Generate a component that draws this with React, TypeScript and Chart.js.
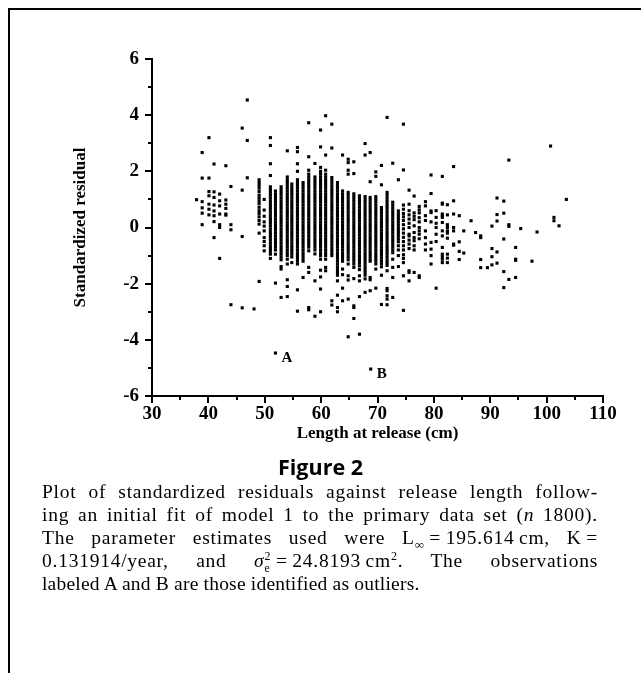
import React, { useEffect, useRef } from "react";
import { Chart, registerables } from "chart.js";

Chart.register(...registerables);

// ---- Data (release length in cm, standardized residual) ----
const leftCluster: [number, number[]][] = [
  [37.9, [0.99]],
  [38.9, [2.67, 1.76, 0.92, 0.7, 0.51, 0.1]],
  [40.1, [3.2, 1.76, 1.28, 1.13, 0.83, 0.65, 0.45]],
  [41.0, [2.26, 1.27, 1.07, 0.8, 0.59, 0.42, 0.21, -0.36]],
  [42.0, [1.19, 0.95, 0.77, 0.48, 0.1, 0, -1.1]],
  [43.1, [2.2, 0.98, 0.83, 0.68, 0.48, 0.44]],
  [44.0, [1.46, 0.1, -0.08, -2.75]],
  [46.0, [3.54, 1.33, -0.32, -2.86]],
  [46.9, [4.54, 3.1, 1.77]],
  [48.1, [-2.9]],
];

const coreColumns: [number, number[]][] = [
  [49.0, [1.7, 1.6, 1.5, 1.4, 1.28, 1.15, 1.05, 0.95, 0.85, 0.72, 0.6, 0.5, 0.38, 0.25, 0.12, -0.2, -1.92]],
  [49.9, [1.0, 0.62, 0.4, 0.2, 0.05, -0.12, -0.36, -0.5, -0.65, -0.83]],
  [51.0, [3.2, 2.92, 2.27, 1.85, 1.45, 1.35, 1.25, 1.15, 1.05, 0.95, 0.85, 0.75, 0.65, 0.55, 0.45, 0.35, 0.25, 0.15, 0.05, -0.05, -0.15, -0.25, -0.35, -0.45, -0.55, -0.65, -0.75, -0.85, -0.95, -1.1]],
  [51.9, [1.3, 1.2, 1.1, 1.0, 0.9, 0.8, 0.7, 0.6, 0.5, 0.4, 0.3, 0.2, 0.1, 0, -0.1, -0.2, -0.3, -0.4, -0.5, -0.6, -0.7, -0.8, -0.95, -1.98]],
  [52.9, [1.45, 1.35, 1.25, 1.15, 1.05, 0.95, 0.85, 0.75, 0.65, 0.55, 0.45, 0.35, 0.25, 0.15, 0.05, -0.05, -0.15, -0.25, -0.35, -0.45, -0.55, -0.65, -0.75, -0.85, -0.95, -1.05, -1.15, -1.39, -1.48, -2.49]],
  [54.0, [2.73, 1.8, 1.7, 1.6, 1.5, 1.4, 1.3, 1.2, 1.1, 1.0, 0.9, 0.8, 0.7, 0.6, 0.5, 0.4, 0.3, 0.2, 0.1, 0, -0.1, -0.2, -0.3, -0.4, -0.5, -0.6, -0.7, -0.8, -0.9, -1.0, -1.13, -1.3, -1.86, -2.1, -2.46]],
  [54.8, [1.55, 1.45, 1.35, 1.25, 1.15, 1.05, 0.95, 0.85, 0.75, 0.65, 0.55, 0.45, 0.35, 0.25, 0.15, 0.05, -0.05, -0.15, -0.25, -0.35, -0.45, -0.55, -0.65, -0.75, -0.85, -0.95, -1.05, -1.25]],
  [55.8, [2.85, 2.7, 2.27, 2.0, 1.7, 1.6, 1.5, 1.4, 1.3, 1.2, 1.1, 1.0, 0.9, 0.8, 0.7, 0.6, 0.5, 0.4, 0.3, 0.2, 0.1, 0, -0.1, -0.2, -0.3, -0.4, -0.5, -0.6, -0.7, -0.8, -0.9, -1.0, -1.1, -1.2, -1.3, -2.22, -2.98]],
  [56.8, [1.6, 1.5, 1.4, 1.3, 1.2, 1.1, 1.0, 0.9, 0.8, 0.7, 0.6, 0.5, 0.4, 0.3, 0.2, 0.1, 0, -0.1, -0.2, -0.3, -0.4, -0.5, -0.6, -0.7, -0.8, -0.9, -1.0, -1.1, -1.2, -1.78]],
  [57.8, [3.73, 2.52, 2.04, 1.9, 1.8, 1.7, 1.6, 1.5, 1.4, 1.3, 1.2, 1.1, 1.0, 0.9, 0.8, 0.7, 0.6, 0.5, 0.4, 0.3, 0.2, 0.1, 0, -0.1, -0.2, -0.3, -0.4, -0.5, -0.6, -0.7, -0.83, -1.42, -1.6, -2.85, -2.93]],
  [58.9, [2.28, 1.8, 1.7, 1.6, 1.5, 1.4, 1.3, 1.2, 1.1, 1.0, 0.9, 0.8, 0.7, 0.6, 0.5, 0.4, 0.3, 0.2, 0.1, 0, -0.1, -0.2, -0.3, -0.4, -0.5, -0.6, -0.7, -0.8, -0.94, -1.9, -3.16]],
  [59.9, [3.47, 2.87, 2.14, 2.0, 1.9, 1.8, 1.7, 1.6, 1.5, 1.4, 1.3, 1.2, 1.1, 1.0, 0.9, 0.8, 0.7, 0.6, 0.5, 0.4, 0.3, 0.2, 0.1, 0, -0.1, -0.2, -0.3, -0.4, -0.5, -0.6, -0.7, -0.8, -0.9, -1.0, -1.13, -1.52, -1.76, -2.19, -3.0]],
  [60.8, [3.98, 2.58, 2.04, 1.9, 1.8, 1.7, 1.6, 1.5, 1.4, 1.3, 1.2, 1.1, 1.0, 0.9, 0.8, 0.7, 0.6, 0.5, 0.4, 0.3, 0.2, 0.1, 0, -0.1, -0.2, -0.3, -0.4, -0.5, -0.6, -0.7, -0.8, -0.9, -1.0, -1.13, -1.42, -1.54]],
  [61.9, [3.68, 2.83, 1.78, 1.68, 1.58, 1.48, 1.38, 1.28, 1.18, 1.08, 0.98, 0.88, 0.78, 0.68, 0.58, 0.48, 0.38, 0.28, 0.18, 0.08, -0.02, -0.12, -0.22, -0.32, -0.42, -0.52, -0.62, -0.72, -0.82, -0.92, -1.0, -2.61, -2.76]],
  [62.9, [1.6, 1.5, 1.4, 1.3, 1.2, 1.1, 1.0, 0.9, 0.8, 0.7, 0.6, 0.5, 0.4, 0.3, 0.2, 0.1, 0, -0.1, -0.2, -0.3, -0.4, -0.5, -0.6, -0.7, -0.8, -0.9, -1.0, -1.1, -1.2, -1.3, -1.4, -1.5, -1.6, -1.7, -1.9, -2.41, -2.85, -3.0]],
  [63.8, [2.58, 1.3, 1.2, 1.1, 1.0, 0.9, 0.8, 0.7, 0.6, 0.5, 0.4, 0.3, 0.2, 0.1, 0, -0.1, -0.2, -0.3, -0.4, -0.5, -0.6, -0.7, -0.8, -0.9, -1.0, -1.1, -1.2, -1.48, -1.68, -2.16, -2.61]],
  [64.8, [2.43, 2.31, 2.04, 1.9, 1.25, 1.15, 1.05, 0.95, 0.85, 0.75, 0.65, 0.55, 0.45, 0.35, 0.25, 0.15, 0.05, -0.05, -0.15, -0.25, -0.35, -0.45, -0.55, -0.65, -0.75, -0.85, -0.95, -1.05, -1.15, -1.3, -1.72, -1.87, -2.55, -3.89]],
  [65.8, [2.34, 1.92, 1.2, 1.1, 1.0, 0.9, 0.8, 0.7, 0.6, 0.5, 0.4, 0.3, 0.2, 0.1, 0, -0.1, -0.2, -0.3, -0.4, -0.5, -0.6, -0.7, -0.8, -0.9, -1.0, -1.1, -1.2, -1.3, -1.42, -1.82, -2.79, -2.85, -3.24]],
  [66.8, [1.13, 1.03, 0.93, 0.83, 0.73, 0.63, 0.53, 0.43, 0.33, 0.23, 0.13, 0.03, -0.07, -0.17, -0.27, -0.37, -0.47, -0.57, -0.67, -0.77, -0.87, -0.97, -1.07, -1.17, -1.27, -1.37, -1.5, -1.72, -1.9, -2.46, -3.8]],
  [67.8, [2.99, 2.58, 1.1, 1.0, 0.9, 0.8, 0.7, 0.6, 0.5, 0.4, 0.3, 0.2, 0.1, 0, -0.1, -0.2, -0.3, -0.4, -0.5, -0.6, -0.7, -0.8, -0.9, -1.0, -1.1, -1.2, -1.3, -1.4, -1.5, -1.6, -1.7, -1.83, -2.31]],
  [68.7, [2.67, 1.63, 1.07, 0.97, 0.87, 0.77, 0.67, 0.57, 0.47, 0.37, 0.27, 0.17, 0.07, -0.03, -0.13, -0.23, -0.33, -0.43, -0.53, -0.63, -0.73, -0.83, -0.93, -1.03, -1.13, -1.2, -1.78, -1.86, -2.25]],
  [69.7, [1.98, 1.82, 1.1, 1.0, 0.9, 0.8, 0.7, 0.6, 0.5, 0.4, 0.3, 0.2, 0.1, 0, -0.1, -0.2, -0.3, -0.4, -0.5, -0.6, -0.7, -0.8, -0.9, -1.0, -1.1, -1.2, -1.3, -1.48, -2.16]],
  [70.7, [2.21, 1.52, 0.71, 0.61, 0.51, 0.41, 0.31, 0.21, 0.11, 0.01, -0.09, -0.19, -0.29, -0.39, -0.49, -0.59, -0.69, -0.79, -0.89, -0.99, -1.09, -1.19, -1.29, -1.4, -1.7, -2.74]],
  [71.7, [3.92, 1.25, 1.15, 1.05, 0.95, 0.85, 0.75, 0.65, 0.55, 0.45, 0.35, 0.25, 0.15, 0.05, -0.05, -0.15, -0.25, -0.35, -0.45, -0.55, -0.65, -0.75, -0.85, -0.95, -1.05, -1.15, -1.25, -1.35, -1.54, -2.17, -2.25, -2.43, -2.55, -2.75]],
  [72.7, [2.29, 0.9, 0.8, 0.7, 0.6, 0.5, 0.4, 0.3, 0.2, 0.1, 0, -0.1, -0.2, -0.3, -0.4, -0.5, -0.6, -0.7, -0.8, -0.9, -1.13, -1.42, -1.78, -2.49]],
  [73.7, [1.7, 0.59, 0.49, 0.39, 0.29, 0.19, 0.09, -0.01, -0.11, -0.21, -0.31, -0.41, -0.51, -0.65, -0.8, -1.0, -1.39]],
  [74.6, [3.68, 2.05, 0.8, 0.65, 0.5, 0.38, 0.25, 0.1, -0.05, -0.2, -0.35, -0.5, -0.65, -0.8, -0.97, -1.1, -1.25, -1.72, -2.95]],
  [75.6, [1.33, 0.83, 0.6, 0.45, 0.3, 0.15, 0, -0.24, -0.3, -0.45, -0.59, -0.75, -1.54, -1.6, -1.9]],
  [76.5, [1.12, 0.52, 0.4, 0.28, 0.06, -0.18, -0.36, -0.47, -0.65, -0.8, -1.6]],
  [77.4, [0.75, 0.63, 0.52, 0.35, 0.2, 0, -0.12, -0.24, -0.4, -1.72, -1.78]],
];

const rightColumns: [number, number[]][] = [
  [78.5, [0.92, 0.77, 0.42, 0.25, -0.12, -0.36, -0.59, -0.8]],
  [79.5, [1.87, 1.21, 0.59, 0.53, 0.2, -0.53, -0.77, -1.0, -1.3]],
  [80.4, [0.6, 0.36, 0.15, 0, -0.24, -0.5, -2.16]],
  [81.5, [1.82, 0.87, 0.83, 0.48, 0.42, 0.36, 0.18, -0.12, -0.3, -0.71, -0.95, -1.04, -1.13, -1.25]],
  [82.4, [0.81, 0.45, 0.1, 0, -0.12, -0.2, -0.38, -0.95, -1.09, -1.25]],
  [83.5, [2.17, 0.95, 0.48, 0, -0.12, -0.59, -0.63]],
  [84.5, [0.42, -0.51, -0.85, -1.14]],
  [85.3, [-0.12, -0.91]],
  [86.6, [0.24]],
  [87.4, [-0.18]],
  [88.3, [-0.3, -0.36, -1.14, -1.43]],
  [89.5, [-1.43]],
  [90.3, [0.05, -0.75, -1.04, -1.33]],
  [91.2, [1.05, 0.46, 0.23, -0.87, -1.27]],
  [92.4, [0.94, 0.51, -0.41, -1.57, -2.14]],
  [93.3, [2.4, 0.1, 0.04, -1.85]],
  [94.5, [-0.71, -1.13, -1.17, -1.78]],
  [95.4, [-0.04]],
  [97.4, [-1.2]],
  [98.3, [-0.16]],
  [100.7, [2.9]],
  [101.3, [0.36, 0.24]],
  [102.2, [0.06]],
  [103.5, [1.0]],
];

const outliers = [
  { label: "A", x: 51.9, y: -4.47 },
  { label: "B", x: 68.8, y: -5.04 },
];

const xMajorTicks = [30, 40, 50, 60, 70, 80, 90, 100, 110];
const xMinorTicks = [35, 45, 55, 65, 75, 85, 95, 105];
const yMajorTicks = [-6, -4, -2, 0, 2, 4, 6];
const yMinorTicks = [-5, -3, -1, 1, 3, 5];

const xTitle = "Length at release (cm)";
const yTitle = "Standardized residual";
const figureTitle = "Figure 2";

// ---- Layout ----
const CANVAS_W = 641;
const CANVAS_H = 460;
const PLOT_LEFT = 152;
const PLOT_RIGHT = 603;
const PLOT_TOP = 59;
const PLOT_BOTTOM = 396;

const toPoints = (cols: [number, number[]][]) =>
  cols.flatMap(([x, ys]) => ys.map((y) => ({ x, y })));

const tickFont = { family: "'Liberation Serif', serif", weight: "bold" as const, size: 19 };
const titleFont = { family: "'Liberation Serif', serif", weight: "bold" as const, size: 17 };

const axisTicksPlugin = {
  id: "axisTicks",
  afterDraw(chart: any) {
    const { ctx, chartArea } = chart;
    const xs = chart.scales.x;
    const ys = chart.scales.y;
    ctx.save();
    ctx.strokeStyle = "#000";
    ctx.lineWidth = 2;
    ctx.beginPath();
    xMajorTicks.forEach((v) => {
      const px = Math.round(xs.getPixelForValue(v));
      ctx.moveTo(px, chartArea.bottom);
      ctx.lineTo(px, chartArea.bottom + 7);
    });
    xMinorTicks.forEach((v) => {
      const px = Math.round(xs.getPixelForValue(v));
      ctx.moveTo(px, chartArea.bottom);
      ctx.lineTo(px, chartArea.bottom + 4);
    });
    yMajorTicks.forEach((v) => {
      const py = Math.round(ys.getPixelForValue(v));
      ctx.moveTo(chartArea.left, py);
      ctx.lineTo(chartArea.left - 7, py);
    });
    yMinorTicks.forEach((v) => {
      const py = Math.round(ys.getPixelForValue(v));
      ctx.moveTo(chartArea.left, py);
      ctx.lineTo(chartArea.left - 4, py);
    });
    ctx.stroke();

    ctx.fillStyle = "#000";
    ctx.font = "bold 15px 'Liberation Serif', serif";
    ctx.textAlign = "left";
    ctx.textBaseline = "middle";
    outliers.forEach((o) => {
      const px = xs.getPixelForValue(o.x);
      const py = ys.getPixelForValue(o.y);
      ctx.fillText(o.label, px + 6, py + 5);
    });
    ctx.restore();
  },
};

function ScatterChart() {
  const ref = useRef<HTMLCanvasElement | null>(null);
  useEffect(() => {
    if (!ref.current) return;
    const points = [
      ...toPoints(leftCluster),
      ...toPoints(coreColumns),
      ...toPoints(rightColumns),
      ...outliers.map((o) => ({ x: o.x, y: o.y })),
    ];
    const chart = new Chart(ref.current, {
      type: "scatter",
      data: {
        datasets: [
          {
            data: points,
            pointStyle: "rect",
            pointRadius: 2.2,
            pointBorderWidth: 0,
            backgroundColor: "#000",
            borderColor: "#000",
          },
        ],
      },
      options: {
        responsive: false,
        animation: false,
        events: [],
        layout: {
          padding: { top: PLOT_TOP, right: CANVAS_W - PLOT_RIGHT, bottom: 0, left: 0 },
        },
        plugins: { legend: { display: false }, tooltip: { enabled: false } },
        scales: {
          x: {
            type: "linear",
            min: 30,
            max: 110,
            afterBuildTicks: (s: any) => {
              s.ticks = xMajorTicks.map((v) => ({ value: v }));
            },
            afterFit: (s: any) => {
              s.height = CANVAS_H - PLOT_BOTTOM;
            },
            ticks: { font: tickFont, color: "#000", padding: 0, maxRotation: 0, autoSkip: false },
            grid: { drawOnChartArea: false, tickLength: 7, color: "rgba(0,0,0,0)" },
            border: { display: true, color: "#000", width: 2 },
            title: {
              display: true,
              text: xTitle,
              font: titleFont,
              color: "#000",
              padding: { top: 0, bottom: 16 },
            },
          },
          y: {
            type: "linear",
            min: -6,
            max: 6,
            afterBuildTicks: (s: any) => {
              s.ticks = yMajorTicks.map((v) => ({ value: v }));
            },
            afterFit: (s: any) => {
              s.width = PLOT_LEFT;
            },
            ticks: { font: tickFont, color: "#000", padding: 6, autoSkip: false },
            grid: { drawOnChartArea: false, tickLength: 7, color: "rgba(0,0,0,0)" },
            border: { display: true, color: "#000", width: 2 },
            title: {
              display: true,
              text: yTitle,
              font: titleFont,
              color: "#000",
              padding: { top: 70, bottom: 0 },
            },
          },
        },
      },
      plugins: [axisTicksPlugin],
    } as any);
    return () => chart.destroy();
  }, []);
  return (
    <canvas
      ref={ref}
      width={CANVAS_W}
      height={CANVAS_H}
      style={{ position: "absolute", left: 0, top: 0, width: CANVAS_W, height: CANVAS_H }}
    />
  );
}

const lineStyle: React.CSSProperties = {
  whiteSpace: "nowrap",
  textAlign: "justify",
  textAlignLast: "justify" as any,
  letterSpacing: "0.75px",
  height: 23,
};

export default function App() {
  return (
    <div
      style={{
        position: "fixed",
        left: 0,
        top: 0,
        width: 641,
        height: 673,
        background: "#fff",
        overflow: "hidden",
      }}
    >
      <div style={{ position: "absolute", left: 8, top: 8, width: 633, height: 2, background: "#000" }} />
      <div style={{ position: "absolute", left: 8, top: 8, width: 2, height: 665, background: "#000" }} />
      <ScatterChart />
      <div
        style={{
          position: "absolute",
          left: 0,
          top: 453,
          width: 641,
          textAlign: "center",
          fontFamily: "'Open Sans', sans-serif",
          fontWeight: "bold",
          fontSize: 21.5,
          lineHeight: "28px",
          color: "#000",
        }}
      >
        {figureTitle}
      </div>
      <div
        style={{
          position: "absolute",
          left: 42,
          top: 480,
          width: 556,
          fontFamily: "'Liberation Serif', serif",
          fontSize: 19.5,
          lineHeight: "23px",
          color: "#000",
        }}
      >
        <div style={lineStyle}>Plot of standardized residuals against release length follow-</div>
        <div style={lineStyle}>
          ing an initial fit of model 1 to the primary data set (<i>n</i> 1800).
        </div>
        <div style={lineStyle}>
          The parameter estimates used were L<sub style={{ fontSize: 13, lineHeight: 0 }}>∞</sub>
          {"\u2009=\u2009"}195.614{"\u2009"}cm, K{"\u2009="}
        </div>
        <div style={lineStyle}>
          0.131914/year, and <i>σ</i>
          <sub style={{ fontSize: 12, lineHeight: 0 }}>e</sub>
          <sup style={{ fontSize: 12, lineHeight: 0, marginLeft: -6 }}>2</sup>
          {"\u2009=\u2009"}24.8193{"\u2009"}cm<sup style={{ fontSize: 12, lineHeight: 0 }}>2</sup>. The observations
        </div>
        <div style={{ whiteSpace: "nowrap", height: 23, letterSpacing: "0.2px" }}>
          labeled A and B are those identified as outliers.
        </div>
      </div>
    </div>
  );
}
